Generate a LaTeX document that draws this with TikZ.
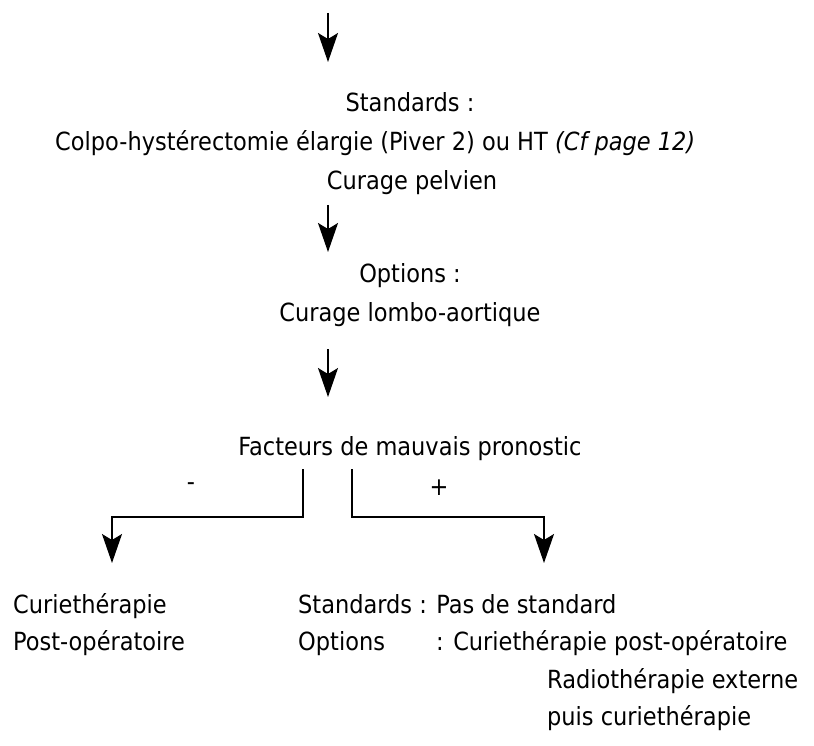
\documentclass[tikz,border=0pt]{standalone}
\usepackage{fontspec}
\setmainfont{DejaVu Sans Condensed}
\usetikzlibrary{arrows.meta,positioning}

\tikzset{
  texte/.style={inner sep=0pt, anchor=base, font=\fontsize{25}{30}\selectfont},
  gauche/.style={texte, anchor=base west},
  fleche/.style={line width=1.5pt, -{Stealth[length=29pt,width=20pt,inset=6pt]}},
}

\begin{document}
\begin{tikzpicture}[x=1pt,y=-1pt]
\useasboundingbox (0,0) rectangle (814,746);
% arrivee
\coordinate (h1) at (328,13);
\coordinate (b1) at (328,62);
\draw[fleche] (h1) -- (b1);
% chirurgie
\node[texte] (std) at (410,112) {Standards :};
\node[gauche] (colpo) at (55,151) {Colpo-hystérectomie élargie (Piver 2) ou HT \textit{(Cf page 12)}};
\node[texte] (pelv) at (412,190) {Curage pelvien};
\coordinate (h2) at (328,205);
\coordinate (b2) at (328,252);
\draw[fleche] (h2) -- (b2);
% options
\node[texte] (opt) at (410,282) {Options :};
\node[texte] (lombo) at (410,321) {Curage lombo-aortique};
\coordinate (h3) at (328,349);
\coordinate (b3) at (328,397);
\draw[fleche] (h3) -- (b3);
\node[texte] (fact) at (410,455) {Facteurs de mauvais pronostic};
% branche -
\coordinate (gH) at (303,469);
\coordinate (gK) at (112,517);
\coordinate (gB) at (112,563);
\draw[fleche] (gH) |- (gK) -- (gB);
\node[texte, anchor=center] (moins) at (191,487) {-};
% branche +
\coordinate (dH) at (352,469);
\coordinate (dK) at (544,517);
\coordinate (dB) at (544,563);
\draw[fleche] (dH) |- (dK) -- (dB);
\node[texte, anchor=center] (plus) at (439,488) {+};
% resultats
\node[gauche] (curie) at (13,613) {Curiethérapie};
\node[gauche] (postop) at (13,650) {Post-opératoire};
\node[gauche] (std2) at (298,613) {Standards : Pas de standard};
\node[gauche] (opt2) at (298,650) {Options};
\node[gauche] (curie2) at (436,650) {: Curiethérapie post-opératoire};
\node[gauche] (radio) at (547,688) {Radiothérapie externe};
\node[gauche] (puis) at (547,725) {puis curiethérapie};
\end{tikzpicture}
\end{document}
